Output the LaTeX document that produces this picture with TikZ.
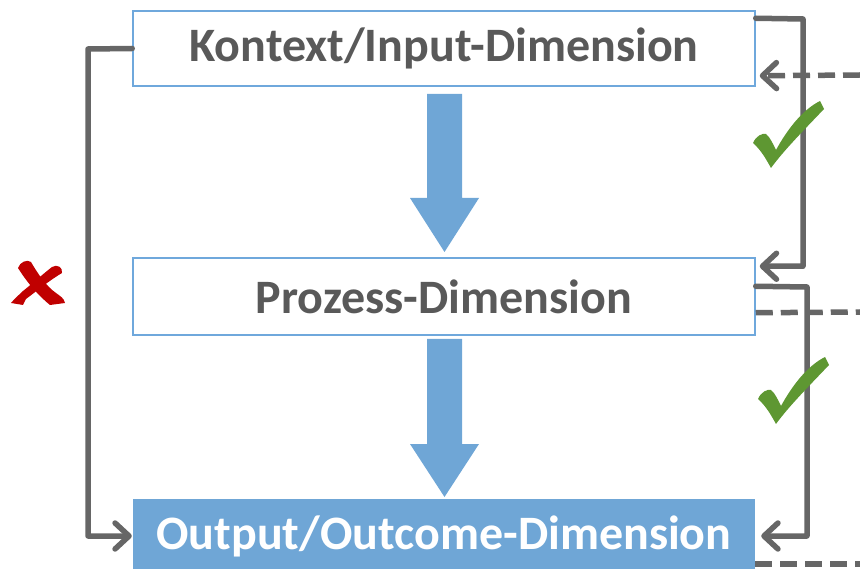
\documentclass[tikz,border=0pt]{standalone}
\usepackage{fontspec}
\setmainfont{Carlito}
\usetikzlibrary{arrows.meta}
\definecolor{boxblue}{HTML}{6FA6D6}
\definecolor{edgeblue}{HTML}{6FA8DC}
\definecolor{txtgray}{HTML}{595959}
\definecolor{lngray}{HTML}{666666}
\definecolor{okgreen}{HTML}{5E9732}
\definecolor{badred}{HTML}{C00000}
\tikzset{
  dimbox/.style={draw=edgeblue, line width=1.5pt, fill=white, minimum width=622pt, inner sep=0pt,
    font=\fontsize{48}{52}\selectfont\bfseries, text=txtgray},
  outbox/.style={fill=boxblue, minimum width=622pt, inner sep=0pt,
    font=\fontsize{48}{52}\selectfont\bfseries, text=white},
  conn/.style={draw=lngray, line width=5.5pt, line cap=round, line join=round},
  connarrow/.style={conn, -{Straight Barb[length=14pt,width=26pt,line cap=round,line join=round]}},
  dashconn/.style={draw=lngray, line width=5.5pt, dash pattern=on 17pt off 8pt},
  bigarrow/.style={fill=boxblue},
  checkmark/.pic={\fill[okgreen] (-1,1) .. controls (2,-6) and (8,-9) .. (12,-8)
     .. controls (16,-5) and (19,2) .. (22,8)
     .. controls (33,-12) and (48,-32) .. (66,-41) -- (70,-33)
     .. controls (52,-14) and (30,8) .. (17,26)
     .. controls (12,17) and (7,8) .. (-1,1) -- cycle;}
}
\begin{document}
\begin{tikzpicture}[x=1pt,y=-1pt]
\useasboundingbox (0,0) rectangle (860,569);
% boxes
\node[dimbox, minimum height=75pt] (k) at (444,48.5) {Kontext/Input-Dimension};
\node[dimbox, minimum height=77pt] (p) at (444,296.5) {Prozess-Dimension};
\node[outbox, minimum height=74pt] (o) at (444,536) {Output/Outcome-Dimension};
% big arrows
\fill[bigarrow] (427,94) -- (462,94) -- (462,198) -- (479,198) -- (444.5,252) -- (410,198) -- (427,198) -- cycle;
\fill[bigarrow] (427,339) -- (462,339) -- (462,444) -- (479,444) -- (444.5,497) -- (410,444) -- (427,444) -- cycle;
% free ends
\coordinate (d1) at (860,75);
\coordinate (d2) at (860,312);
\coordinate (d3) at (860,564);
% left connector
\draw[connarrow, shorten >=1pt] (k.west) -- (88,49) |- (o.west);
% right connectors
\draw[connarrow, shorten >=4pt] ([yshift=-8pt]k.north east) -- (803,19) |- ([yshift=-9pt]p.north east);
\draw[connarrow, shorten >=6pt] ([yshift=-29pt]p.north east) -- (807,287) |- (o.east);
% dashed connectors
\draw[dashconn, -{Straight Barb[length=14pt,width=26pt,line cap=round,line join=round]}, shorten >=4pt] (d1) -- ([yshift=11pt]k.south east);
\draw[dashconn] ([yshift=23pt]p.south east) -- (d2);
\draw[dashconn] ([yshift=-28pt]o.east) -- (d3);
% check marks
\pic at (754,142) {checkmark};
\pic at (759,398) {checkmark};
% red cross
\fill[badred] (18,268) .. controls (20,262) and (27,259) .. (31,262)
  .. controls (38,274) and (46,286) .. (56,293) .. controls (60,296) and (64,298) .. (65,303)
  -- (50,305) .. controls (40,297) and (28,284) .. (18,268) -- cycle;
\fill[badred] (52,267) .. controls (57,264) and (63,267) .. (62,273)
  .. controls (50,280) and (38,290) .. (26,299) -- (23,305) -- (11,303)
  .. controls (15,298) and (19,295) .. (23,291)
  .. controls (33,283) and (43,274) .. (52,267) -- cycle;
\end{tikzpicture}
\end{document}
